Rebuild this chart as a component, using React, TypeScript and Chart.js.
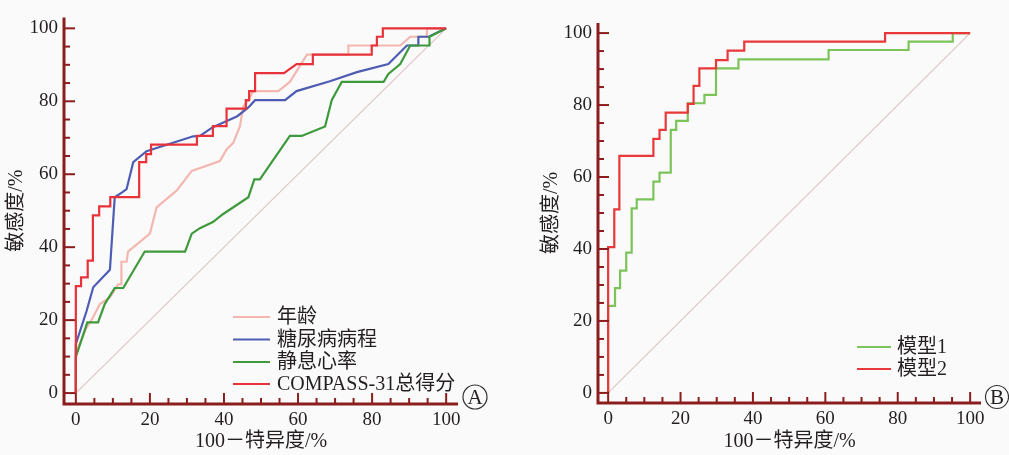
import React, { useEffect, useRef } from 'react';
import { Chart, registerables } from 'chart.js';

Chart.register(...registerables);

// ---------- shared ----------
const tickValues = [0, 20, 40, 60, 80, 100];
const minorStep = 5;
const diagX = [0, 100];
const diagY = [0, 100];
const xTitle = '100－特异度/%';
const yTitle = '敏感度/%';

// ---------- Panel A ----------
const ageLabel = '年龄';
const ageX = [0, 0, 2.9, 4.5, 6.5, 9.2, 11.4, 12.2, 12.3, 13.7, 14.1, 20, 21.8, 27.2, 31.3, 38.9, 40.7, 42.5, 44.3, 45.2, 46.6, 47.9, 54.7, 57.8, 62.4, 73.6, 73.6, 87.6, 90.3, 94.8, 94.8, 100];
const ageY = [0, 11, 18, 20.5, 24.4, 26.2, 29.8, 29.8, 36, 36, 38.8, 43.7, 50.9, 55.5, 60.9, 63.6, 66.8, 68.6, 73.1, 78.5, 80.3, 82.8, 82.8, 85.3, 92.8, 92.8, 95.3, 95.3, 97.7, 97.7, 100, 100];

const durLabel = '糖尿病病程';
const durX = [0, 0, 2.9, 4.7, 9.2, 10.5, 12.5, 13.7, 15.5, 19.1, 31.7, 33.5, 37, 43.6, 46.6, 48.4, 56.5, 59.6, 68.6, 75.9, 84.4, 89.4, 92.5, 92.5, 95.3, 100];
const durY = [0, 13.5, 22.5, 29, 33.8, 53.7, 55, 55.9, 63.3, 66.3, 70.4, 70.5, 72.9, 75.9, 78.3, 80.3, 80.3, 82.8, 85.5, 88, 90.2, 95.3, 95.3, 97.7, 97.7, 100];

const hrLabel = '静息心率';
const hrX = [0, 0, 3.1, 6, 7.8, 10.5, 12.8, 18.6, 29.5, 31.3, 33.5, 37, 39.8, 46.6, 48.2, 49.7, 52.9, 57.8, 61, 67.3, 69.1, 71.8, 83.1, 84.4, 87.6, 90.3, 95.5, 95.5, 100];
const hrY = [0, 9.9, 19.4, 19.4, 24.4, 28.8, 28.8, 38.8, 38.8, 43.7, 45.2, 46.9, 49.1, 53.7, 58.6, 58.6, 63.3, 70.5, 70.5, 73.1, 80.3, 85.3, 85.3, 87.5, 90.2, 95.3, 95.3, 97.7, 100];

const compassLabel = 'COMPASS-31总得分';
const compassX = [0, 0, 1.4, 1.4, 3.2, 3.2, 4.6, 4.6, 6.3, 6.3, 9.3, 9.3, 17.1, 17.1, 19, 19, 20.3, 20.3, 32.7, 32.7, 37, 37, 40.7, 40.7, 45.9, 45.9, 46.8, 46.8, 48.4, 48.4, 56.2, 59.6, 64, 64, 79.9, 79.9, 81.3, 81.3, 82.9, 82.9, 100];
const compassY = [0, 29.3, 29.3, 31.7, 31.7, 36.3, 36.3, 48.7, 48.7, 51.2, 51.2, 53.7, 53.7, 63.3, 63.3, 65.5, 65.5, 68.1, 68.1, 70.5, 70.5, 73.2, 73.2, 78, 78, 80.3, 80.3, 82.8, 82.8, 87.7, 87.7, 90.2, 90.2, 92.8, 92.8, 95.3, 95.3, 97.7, 97.7, 100, 100];

// ---------- Panel B ----------
const model1Label = '模型1';
const model1X = [0, 0, 1.9, 1.9, 3.3, 3.3, 5, 5, 6.5, 6.5, 7.9, 7.9, 12.5, 12.5, 14.2, 14.2, 17.3, 17.3, 18.8, 18.8, 22, 22, 26.6, 26.6, 29.8, 29.8, 36, 36, 60.9, 60.9, 83, 83, 95.2, 95.2, 100];
const model1Y = [0, 24.2, 24.2, 29.1, 29.1, 34, 34, 39, 39, 51.3, 51.3, 53.8, 53.8, 58.7, 58.7, 61.2, 61.2, 73.1, 73.1, 75.6, 75.6, 80.5, 80.5, 82.8, 82.8, 90.2, 90.2, 92.7, 92.7, 95.3, 95.3, 97.6, 97.6, 100, 100];

const model2Label = '模型2';
const model2X = [0, 0, 1.7, 1.7, 3.1, 3.1, 12.5, 12.5, 14.2, 14.2, 15.9, 15.9, 22, 22, 23.6, 23.6, 25.2, 25.2, 29.8, 29.8, 33, 33, 37.6, 37.6, 76.5, 76.5, 100];
const model2Y = [0, 40.5, 40.5, 51, 51, 65.9, 65.9, 70.6, 70.6, 73.1, 73.1, 77.9, 77.9, 80.3, 80.3, 85.3, 85.3, 90.2, 90.2, 92.5, 92.5, 95.1, 95.1, 97.6, 97.6, 100, 100];

// ---------- styling ----------
const AXIS_COLOR = '#8c1d1d';
const TEXT_COLOR = '#231f20';
const BG = '#fafafa';
const DIAG_COLOR = '#dcc7c3';
const SERIF = "'Liberation Serif', 'Noto Sans CJK SC', serif";

const toPts = (xs: number[], ys: number[]) => xs.map((x, i) => ({ x, y: ys[i] }));

type PanelSpec = {
  width: number;
  series: { label: string; xs: number[]; ys: number[]; color: string; order: number }[];
  xMin: number; xMax: number; yMin: number; yMax: number;
  padRight: number; padTop: number; yWidth: number; xHeight: number;
  yTitlePad: number;
  legend: { x0: number; x1: number; tx: number; ys: number[] };
  letter: string; letterX: number; letterY: number; letterR: number;
};

const decorPlugin = {
  id: 'rocDecor',
  afterDraw(chart: any, _args: any, opts: any) {
    const { ctx, chartArea: ca, scales } = chart;
    const xs = scales.x;
    const ys = scales.y;
    ctx.save();
    ctx.strokeStyle = AXIS_COLOR;
    ctx.lineCap = 'butt';
    ctx.lineWidth = 3;
    ctx.beginPath();
    ctx.moveTo(ca.left, ca.top);
    ctx.lineTo(ca.left, ca.bottom);
    ctx.lineTo(ca.right, ca.bottom);
    ctx.stroke();
    ctx.lineWidth = 2;
    for (let v = 0; v <= 100; v += minorStep) {
      const len = v % 20 === 0 ? 11 : 6;
      const px = xs.getPixelForValue(v);
      ctx.beginPath();
      ctx.moveTo(px, ca.bottom);
      ctx.lineTo(px, ca.bottom - len);
      ctx.stroke();
      const py = ys.getPixelForValue(v);
      ctx.beginPath();
      ctx.moveTo(ca.left, py);
      ctx.lineTo(ca.left + len, py);
      ctx.stroke();
    }
    // legend
    const lg = opts.legend;
    ctx.font = `20px ${SERIF}`;
    ctx.textAlign = 'left';
    ctx.textBaseline = 'middle';
    chart.data.datasets.forEach((ds: any, i: number) => {
      if (!ds.label) return;
      const y = lg.ys[i];
      ctx.strokeStyle = ds.borderColor;
      ctx.lineWidth = 2;
      ctx.beginPath();
      ctx.moveTo(lg.x0, y);
      ctx.lineTo(lg.x1, y);
      ctx.stroke();
      ctx.fillStyle = TEXT_COLOR;
      ctx.fillText(ds.label, lg.tx, y + 1);
    });
    // panel letter
    ctx.beginPath();
    ctx.arc(opts.letterX, opts.letterY, opts.letterR, 0, Math.PI * 2);
    ctx.lineWidth = 1.2;
    ctx.strokeStyle = '#333';
    ctx.stroke();
    ctx.fillStyle = TEXT_COLOR;
    ctx.textAlign = 'center';
    ctx.font = `21px ${SERIF}`;
    ctx.fillText(opts.letter, opts.letterX, opts.letterY + 1);
    ctx.restore();
  },
};

function buildConfig(p: PanelSpec): any {
  const datasets: any[] = p.series.map((s) => ({
    label: s.label,
    data: toPts(s.xs, s.ys),
    borderColor: s.color,
    backgroundColor: s.color,
    borderWidth: 2.2,
    order: s.order,
  }));
  datasets.push({
    label: '',
    data: toPts(diagX, diagY),
    borderColor: DIAG_COLOR,
    borderWidth: 1.2,
    order: 20,
  });
  const tickFont = { family: SERIF, size: 19 };
  const titleFont = { family: SERIF, size: 20 };
  const setTicks = (s: any) => {
    s.ticks = tickValues.map((v) => ({ value: v }));
  };
  return {
    type: 'line',
    data: { datasets },
    plugins: [decorPlugin],
    options: {
      animation: false,
      responsive: false,
      events: [],
      parsing: true,
      layout: { padding: { left: 0, right: p.padRight, top: p.padTop, bottom: 0 } },
      elements: { line: { tension: 0, fill: false }, point: { radius: 0 } },
      plugins: {
        legend: { display: false },
        tooltip: { enabled: false },
        rocDecor: {
          legend: p.legend,
          letter: p.letter,
          letterX: p.letterX,
          letterY: p.letterY,
          letterR: p.letterR,
        },
      },
      scales: {
        x: {
          type: 'linear',
          min: p.xMin,
          max: p.xMax,
          afterFit: (s: any) => { s.height = p.xHeight; },
          afterBuildTicks: setTicks,
          grid: { display: false, drawTicks: false },
          border: { display: false },
          ticks: { padding: 5, font: tickFont, color: TEXT_COLOR, maxRotation: 0, autoSkip: false, callback: (v: any) => String(v) },
          title: { display: true, text: xTitle, font: titleFont, color: TEXT_COLOR, padding: { top: 0, bottom: 1 } },
        },
        y: {
          type: 'linear',
          min: p.yMin,
          max: p.yMax,
          afterFit: (s: any) => { s.width = p.yWidth; },
          afterBuildTicks: setTicks,
          grid: { display: false, drawTicks: false },
          border: { display: false },
          ticks: { padding: 6, font: tickFont, color: TEXT_COLOR, autoSkip: false, callback: (v: any) => String(v) },
          title: { display: true, text: yTitle, font: titleFont, color: TEXT_COLOR, padding: { top: p.yTitlePad, bottom: 0 } },
        },
      },
    },
  };
}

const panelA: PanelSpec = {
  width: 505,
  series: [
    { label: ageLabel, xs: ageX, ys: ageY, color: '#f3b7b0', order: 4 },
    { label: durLabel, xs: durX, ys: durY, color: '#4d5db3', order: 3 },
    { label: hrLabel, xs: hrX, ys: hrY, color: '#3e9a3c', order: 2 },
    { label: compassLabel, xs: compassX, ys: compassY, color: '#e8323a', order: 1 },
  ],
  xMin: -3.2, xMax: 103.2, yMin: -3, yMax: 103,
  padRight: 47, padTop: 13, yWidth: 64, xHeight: 51,
  yTitlePad: 5,
  legend: { x0: 233, x1: 270, tx: 277, ys: [317, 339.5, 362, 384] },
  letter: 'A', letterX: 475, letterY: 397, letterR: 12,
};

const panelB: PanelSpec = {
  width: 504,
  series: [
    { label: model1Label, xs: model1X, ys: model1Y, color: '#7cc35a', order: 2 },
    { label: model2Label, xs: model2X, ys: model2Y, color: '#e8383a', order: 1 },
  ],
  xMin: -2.8, xMax: 103, yMin: -2.8, yMax: 102.8,
  padRight: 28, padTop: 23, yWidth: 93, xHeight: 52,
  yTitlePad: 35,
  legend: { x0: 352, x1: 386, tx: 392, ys: [347, 369] },
  letter: 'B', letterX: 492, letterY: 397, letterR: 11.5,
};

function Panel({ spec, left }: { spec: PanelSpec; left: number }) {
  const ref = useRef<HTMLCanvasElement | null>(null);
  useEffect(() => {
    if (!ref.current) return;
    const chart = new Chart(ref.current, buildConfig(spec));
    return () => chart.destroy();
  }, [spec]);
  return (
    <canvas
      ref={ref}
      width={spec.width}
      height={455}
      style={{ position: 'absolute', left, top: 0, width: spec.width, height: 455, display: 'block' }}
    />
  );
}

export default function App() {
  return (
    <div style={{ position: 'fixed', left: 0, top: 0, width: 1009, height: 455, background: BG, overflow: 'hidden' }}>
      <Panel spec={panelA} left={0} />
      <Panel spec={panelB} left={505} />
    </div>
  );
}
